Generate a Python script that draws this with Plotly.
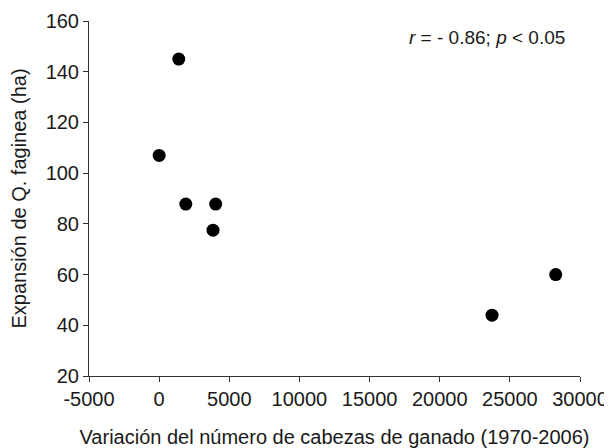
import plotly.graph_objects as go

livestock_change = [0, 1400, 1900, 4030, 3840, 23730, 28270]
expansion_ha = [107, 145, 87.8, 87.8, 77.5, 44, 60]

x_ticks = [-5000, 0, 5000, 10000, 15000, 20000, 25000, 30000]
y_ticks = [20, 40, 60, 80, 100, 120, 140, 160]

font_family = "Liberation Sans, Arial, sans-serif"

fig = go.Figure()
fig.add_trace(go.Scatter(
    x=livestock_change, y=expansion_ha, mode="markers",
    marker=dict(color="black", size=13),
    showlegend=False,
))

# the page body adds an 8px offset, margins compensate for it
fig.update_layout(
    width=612, height=448,
    margin=dict(l=81, r=40, t=13, b=80),
    paper_bgcolor="white", plot_bgcolor="white",
    font=dict(family=font_family, size=20, color="#1a1a1a"),
)
fig.update_xaxes(
    range=[-5000, 30000], tickvals=x_ticks, ticktext=[str(v) for v in x_ticks],
    showgrid=False, zeroline=False, showline=True, linecolor="#333333", linewidth=1,
    ticks="outside", ticklen=5, tickcolor="#333333", automargin=False,
    tickfont=dict(size=20),
    title=dict(text="Variación del número de cabezas de ganado (1970-2006)", standoff=20,
               font=dict(size=20)),
)
fig.update_yaxes(
    range=[20, 160], tickvals=y_ticks, ticktext=[str(v) for v in y_ticks],
    showgrid=False, zeroline=False, showline=True, linecolor="#333333", linewidth=1,
    ticks="outside", ticklen=5, tickcolor="#333333", automargin=False,
    tickfont=dict(size=20),
    title=dict(text="Expansión de Q. faginea (ha)", standoff=13, font=dict(size=20)),
)
fig.add_annotation(
    text="<i>r</i> = - 0.86; <i>p</i> < 0.05",
    xref="paper", yref="paper", x=0.81, y=0.954,
    xanchor="center", yanchor="middle", showarrow=False,
    font=dict(size=19, color="#1a1a1a"),
)

fig.write_html("out.html")
